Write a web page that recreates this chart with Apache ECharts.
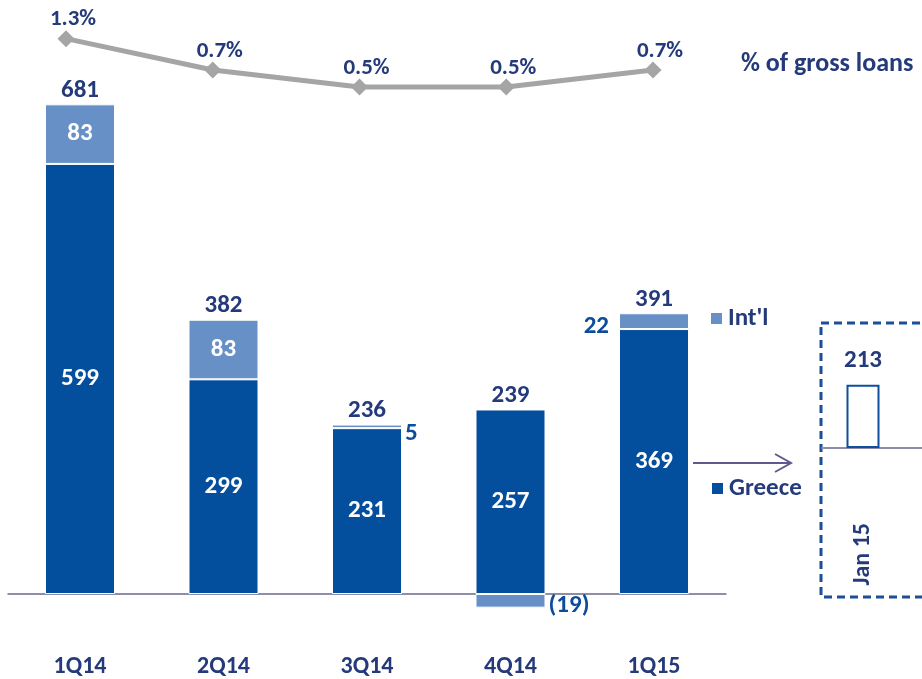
<!DOCTYPE html>
<html>
<head>
<meta charset="utf-8">
<script src="https://cdn.jsdelivr.net/npm/echarts@6/dist/echarts.min.js"></script>
<style>
  html, body { margin: 0; padding: 0; background: #fff; }
  #chart { width: 922px; height: 679px; }
</style>
</head>
<body>
<div id="chart"></div>
<script>
const quarters = ['1Q14', '2Q14', '3Q14', '4Q14', '1Q15']
const greece = [599, 299, 231, 257, 369]
const intl = [83, 83, 5, -19, 22]
const totals = [681, 382, 236, 239, 391]
const pctGrossLoans = [1.3, 0.7, 0.5, 0.5, 0.7]

const insetMonths = ['Jan 15', '']
const insetValues = [213, '-']

const NAVY = '#243a7a'
const BLUE = '#0d4c99'
const GREECE_COLOR = '#044f9d'
const INTL_COLOR = '#6790c7'
const FONT = 'Carlito, Lato, sans-serif'

// where each total label sits: on top of the positive part of the stack
const stackTops = greece.map((g, i) => g + Math.max(intl[i], 0))

const intlLabel = (i) => {
  if (i === 2) return { position: 'right', distance: 3, offset: [0, 7], color: BLUE }
  if (i === 3) return { position: 'right', distance: 3, offset: [0, 5], color: BLUE, formatter: '(19)' }
  if (i === 4) return { position: 'left', distance: 10, offset: [0, 6], color: BLUE }
  return { position: 'inside', color: '#fff' }
}

const textBold = (size, color) => ({
  color: color || NAVY,
  fontSize: size,
  fontWeight: 'bold',
  fontFamily: FONT,
})

const chart = echarts.init(document.getElementById('chart'))

chart.setOption({
  animation: false,
  textStyle: { fontFamily: FONT },
  title: {
    text: '% of gross loans',
    left: 736,
    top: 46,
    textStyle: textBold(26),
  },
  legend: [
    {
      data: ["Int'l"],
      left: 704,
      top: 301,
      icon: 'rect',
      itemWidth: 13,
      itemHeight: 13,
      itemGap: 6,
      textStyle: textBold(25),
    },
    {
      data: ['Greece'],
      left: 705,
      top: 471,
      icon: 'rect',
      itemWidth: 13,
      itemHeight: 13,
      itemGap: 6,
      textStyle: textBold(25),
    },
  ],
  grid: [
    // bottom edge of this grid is the zero line; the (19) bar hangs below it
    { left: 8.25, right: 196.25, top: 91.4, bottom: 85, outerBoundsMode: 'none' },
    { left: 66, right: 269, top: 20, bottom: 569, outerBoundsMode: 'none' },
    { left: 822, width: 164, top: 359, bottom: 231, outerBoundsMode: 'none' },
  ],
  xAxis: [
    {
      gridIndex: 0,
      type: 'category',
      data: quarters,
      axisLine: { lineStyle: { color: '#8d8fa8', width: 2 } },
      axisTick: { show: false },
      axisLabel: { margin: 61, ...textBold(24) },
    },
    { gridIndex: 1, type: 'category', data: quarters, boundaryGap: false, show: false },
    {
      gridIndex: 2,
      type: 'category',
      data: insetMonths,
      axisLine: { lineStyle: { color: '#8d8fa8', width: 2 } },
      axisTick: { show: false },
      axisLabel: { rotate: 90, margin: 75, ...textBold(24) },
    },
  ],
  yAxis: [
    { gridIndex: 0, type: 'value', min: 0, max: 700, show: false },
    { gridIndex: 1, type: 'log', logBase: 10, min: 0.3173, max: 1.879, show: false },
    { gridIndex: 2, type: 'value', min: 0, max: 300, show: false },
  ],
  graphic: [
    {
      type: 'rect',
      shape: { x: 821, y: 323, width: 200, height: 274 },
      style: { fill: 'none', stroke: '#1b4f98', lineWidth: 3, lineDash: [8, 5] },
    },
    {
      type: 'polyline',
      shape: { points: [[693, 463], [791, 463]] },
      style: { stroke: '#5e5a8e', lineWidth: 2, fill: 'none' },
    },
    {
      type: 'polyline',
      shape: { points: [[775, 454], [791, 463], [775, 472]] },
      style: { stroke: '#5e5a8e', lineWidth: 2, fill: 'none' },
    },
  ],
  series: [
    {
      name: 'Greece',
      type: 'bar',
      stack: 'total',
      barWidth: 70,
      clip: false,
      data: greece,
      itemStyle: { color: GREECE_COLOR, borderColor: '#fff', borderWidth: 1 },
      label: { show: true, position: 'inside', ...textBold(25, '#fff') },
    },
    {
      name: "Int'l",
      type: 'bar',
      stack: 'total',
      barWidth: 70,
      clip: false,
      data: intl.map((v, i) => ({ value: v, label: intlLabel(i) })),
      itemStyle: { color: INTL_COLOR, borderColor: '#fff', borderWidth: 1 },
      label: { show: true, fontSize: 25, fontWeight: 'bold', fontFamily: FONT },
    },
    {
      name: 'Total',
      type: 'scatter',
      symbolSize: 0,
      data: stackTops,
      itemStyle: { opacity: 1 },
      label: {
        show: true,
        position: 'top',
        distance: 1,
        ...textBold(25),
        formatter: (p) => totals[p.dataIndex],
      },
      z: 5,
    },
    {
      name: '% of gross loans',
      type: 'line',
      xAxisIndex: 1,
      yAxisIndex: 1,
      data: pctGrossLoans,
      clip: false,
      symbol: 'diamond',
      symbolSize: 17,
      lineStyle: { color: '#a5a5a5', width: 5 },
      itemStyle: { color: '#a5a5a5' },
      label: {
        show: true,
        position: 'top',
        distance: 1,
        offset: [7, 2],
        ...textBold(23),
        formatter: (p) => p.value.toFixed(1) + '%',
      },
    },
    {
      name: 'Jan 15',
      type: 'bar',
      xAxisIndex: 2,
      yAxisIndex: 2,
      barWidth: 33,
      data: insetValues,
      itemStyle: { color: '#fff', borderColor: '#0d4f9c', borderWidth: 2 },
      label: { show: true, position: 'top', distance: 12, ...textBold(25) },
    },
  ],
})
</script>
</body>
</html>
